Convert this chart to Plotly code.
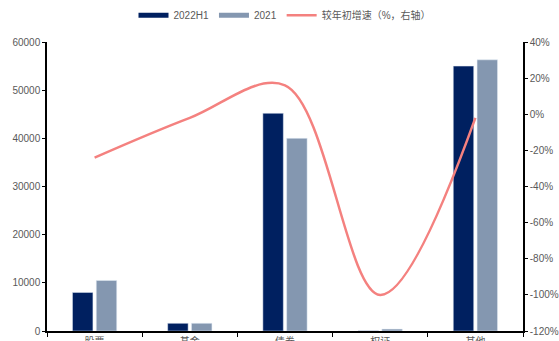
import plotly.graph_objects as go

categories = ["股票", "基金", "债券", "权证", "其他"]
h1_2022 = [8000, 1600, 45200, 50, 55000]
y2021 = [10500, 1600, 40000, 400, 56300]
growth = [-24, -2, 16, -100, -2]

left_ticks = [0, 10000, 20000, 30000, 40000, 50000, 60000]
right_ticks = [-120, -100, -80, -60, -40, -20, 0, 20, 40]
right_labels = [f"{v}%" for v in right_ticks]

navy = "#002060"
grayblue = "#8497B0"
salmon = "#F4817F"
font_family = "Liberation Sans, Noto Sans CJK SC, sans-serif"

fig = go.Figure()
fig.add_trace(go.Bar(x=categories, y=h1_2022, name="2022H1", marker_color=navy,
                     showlegend=False))
fig.add_trace(go.Bar(x=categories, y=y2021, name="2021", marker_color=grayblue,
                     showlegend=False))
fig.add_trace(go.Scatter(x=categories, y=growth, name="较年初增速（%，右轴）",
                         mode="lines", line=dict(color=salmon, width=2.5, shape="spline",
                                                 smoothing=1.0),
                         yaxis="y2", showlegend=False))
# legend entries
fig.add_trace(go.Scatter(x=[None], y=[None], mode="lines", name="2022H1",
                         line=dict(color=navy, width=5)))
fig.add_trace(go.Scatter(x=[None], y=[None], mode="lines", name="2021",
                         line=dict(color=grayblue, width=5)))
fig.add_trace(go.Scatter(x=[None], y=[None], mode="lines", name="较年初增速（%，右轴）",
                         line=dict(color=salmon, width=2.5)))

fig.update_layout(
    width=559, height=341,
    margin=dict(l=47, r=36, t=42, b=10),
    paper_bgcolor="white", plot_bgcolor="white",
    barmode="group", bargap=0.5, bargroupgap=0.14,
    font=dict(family=font_family, size=10, color="#595959"),
    legend=dict(orientation="h", x=0.5, xanchor="center", y=0.955, yanchor="middle",
                yref="container", font=dict(size=10, color="#595959"),
                itemwidth=30, tracegroupgap=0, traceorder="normal"),
    xaxis=dict(showline=True, linecolor="black", linewidth=1.5, ticks="outside",
               tickson="boundaries", ticklen=4, tickcolor="black", automargin=False,
               showgrid=False, tickfont=dict(size=10, color="#595959")),
    yaxis=dict(range=[0, 60000], tickvals=left_ticks, tickformat="d", showline=True,
               linecolor="black", automargin=False,
               linewidth=1.5, ticks="outside", ticklen=3, tickcolor="black",
               showgrid=False, zeroline=False, tickfont=dict(size=10, color="#595959")),
    yaxis2=dict(range=[-120, 40], tickvals=right_ticks, ticktext=right_labels,
                overlaying="y", side="right", showline=True, linecolor="black",
                linewidth=1.5, ticks="outside", ticklen=3, tickcolor="black",
                automargin=False,
                showgrid=False, zeroline=False, tickfont=dict(size=10, color="#595959")),
)

fig.write_html("out.html")
